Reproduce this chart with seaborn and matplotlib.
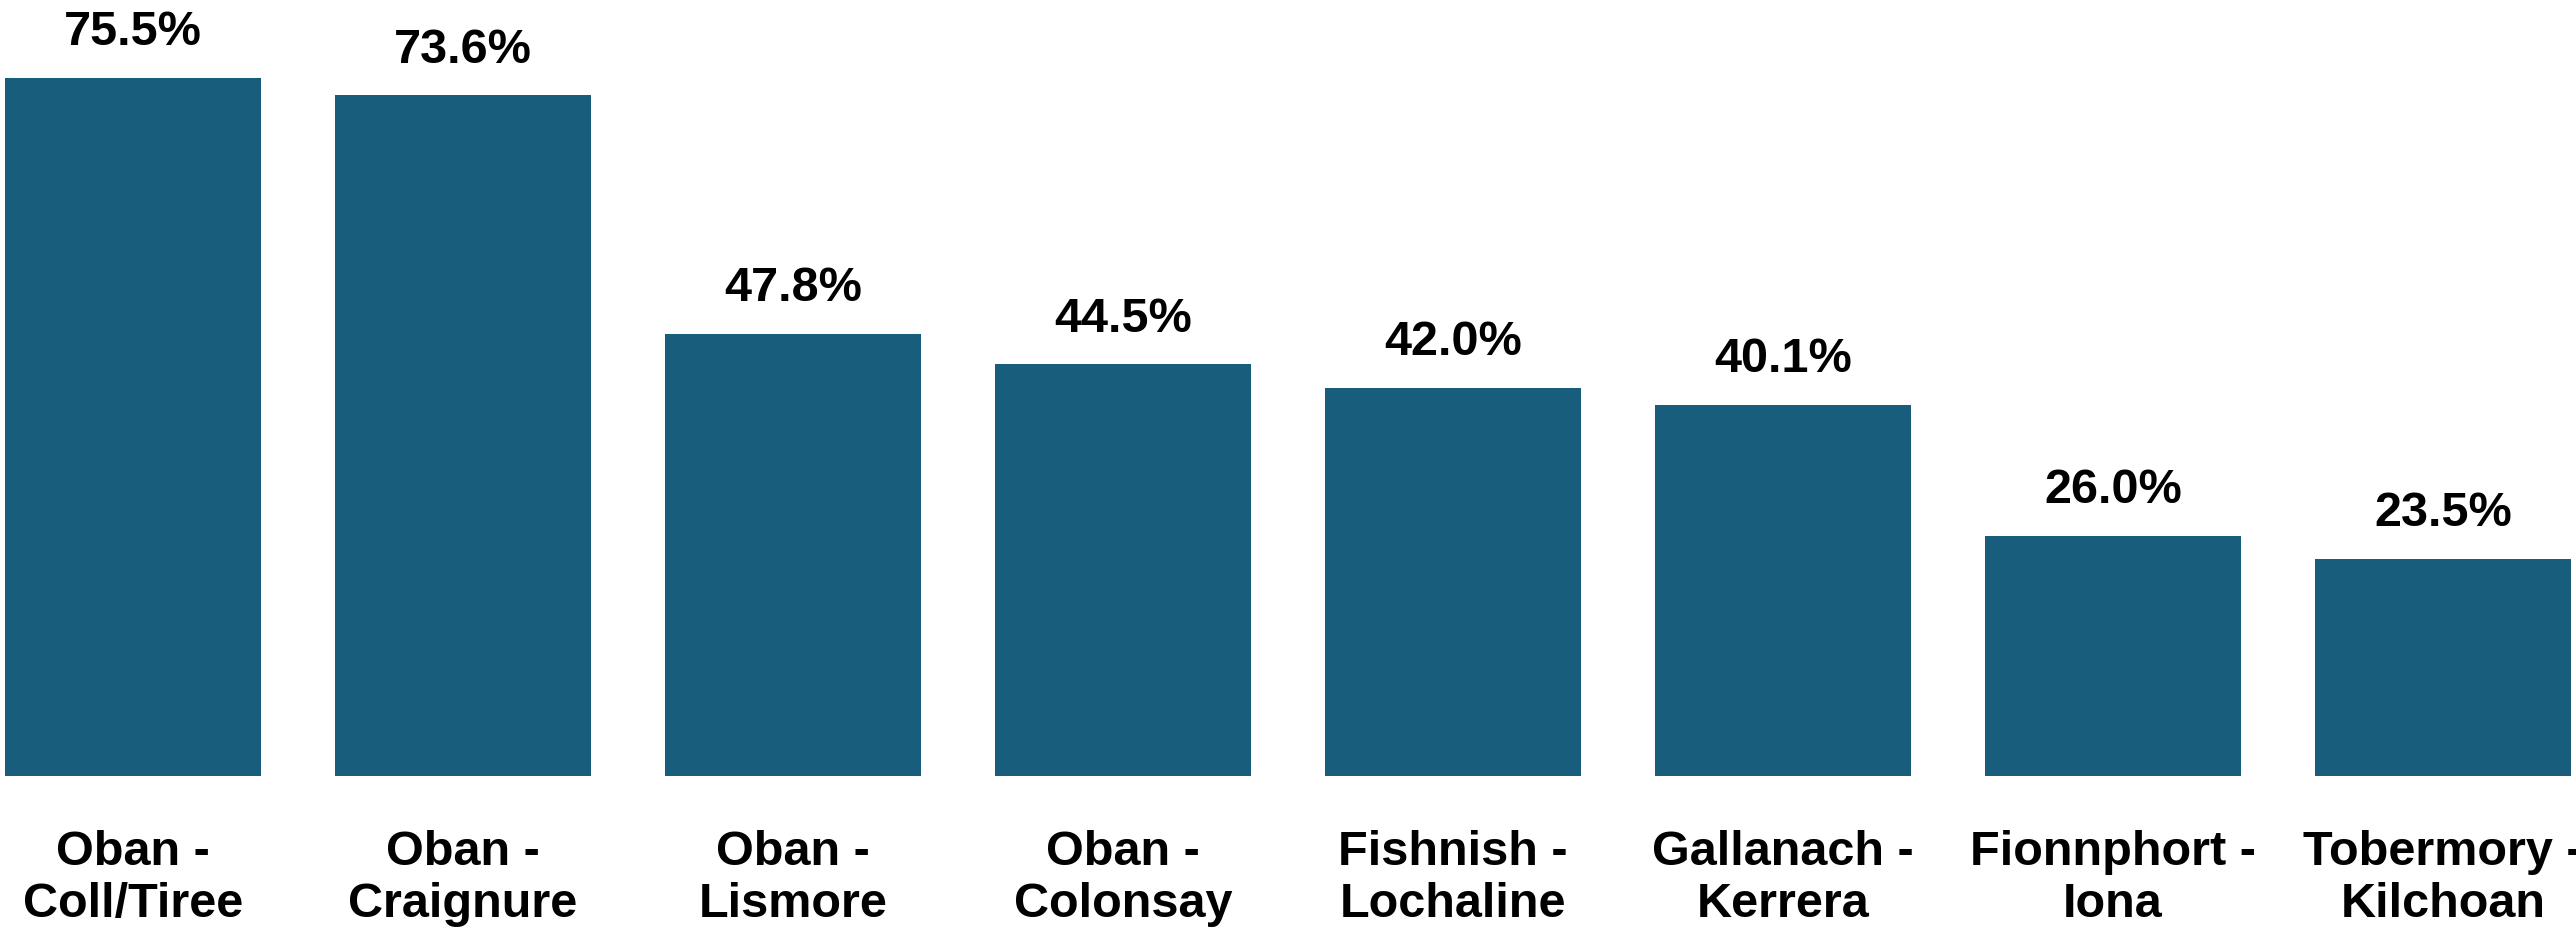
import matplotlib
matplotlib.use("Agg")
import matplotlib.pyplot as plt
import seaborn as sns
import pandas as pd

categories = ["Oban -\nColl/Tiree", "Oban -\nCraignure", "Oban -\nLismore", "Oban -\nColonsay",
              "Fishnish -\nLochaline", "Gallanach -\nKerrera", "Fionnphort -\nIona", "Tobermory -\nKilchoan"]
values = [75.5, 73.6, 47.8, 44.5, 42.0, 40.1, 26.0, 23.5]
value_labels = ["75.5%", "73.6%", "47.8%", "44.5%", "42.0%", "40.1%", "26.0%", "23.5%"]

sns.set_theme(style="white")
plt.rcParams['font.family'] = ['Liberation Sans', 'DejaVu Sans']

df = pd.DataFrame({"route": categories, "value": values})

fig = plt.figure(figsize=(25.76, 9.28), dpi=100)
ax = fig.add_axes([0, (928 - 777) / 928, 1, 777 / 928])

sns.barplot(data=df, x="route", y="value", color="#185D7C", saturation=1,
            width=0.777, edgecolor="none", ax=ax)

ax.set_xlim(-0.403, 7.403)
ax.set_ylim(0, 84.0)

for i, (v, lab) in enumerate(zip(values, value_labels)):
    ax.annotate(lab, (i, v), xytext=(0, 17), textcoords="offset points",
                ha="center", va="bottom", fontsize=35, fontweight="bold", color="black")

ax.set_xlabel("")
ax.set_ylabel("")
ax.set_yticks([])
ax.tick_params(axis="x", length=0, pad=38)
for t in ax.get_xticklabels():
    t.set_fontsize(35)
    t.set_fontweight("bold")
    t.set_color("black")
    t.set_linespacing(1.22)
for s in ax.spines.values():
    s.set_visible(False)

fig.savefig("out.png", dpi=100)
